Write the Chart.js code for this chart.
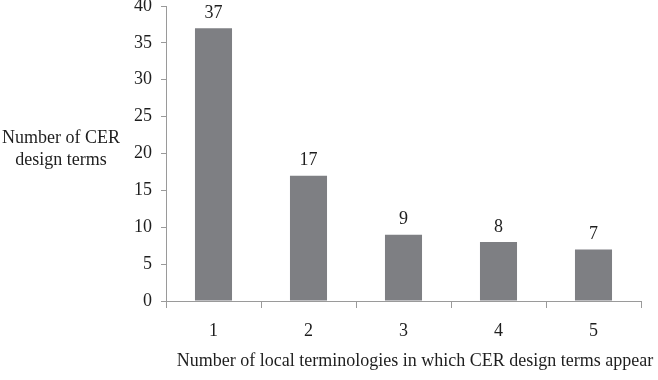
<!DOCTYPE html>
<html>
<head>
<meta charset="utf-8">
<script src="https://cdn.jsdelivr.net/npm/chart.js@4"></script>
<style>
  body { margin: 0; background: #fff; }
</style>
</head>
<body>
<canvas id="chart" width="658" height="380"></canvas>
<script>
const categories = ['1', '2', '3', '4', '5'];
const termCounts = [37, 17, 9, 8, 7];
const yTitleLines = ['Number of CER', 'design terms'];
const xTitle = 'Number of local terminologies in which CER design terms appear';

const fontFamily = '"Liberation Serif", "Times New Roman", serif';
const textColor = '#1e1e1e';
const axisColor = '#9a9a9a';

// value labels above bars + axis titles (placed like the original, not centred on the axis)
const labelsPlugin = {
    id: 'labels',
    afterDatasetsDraw(chart) {
        const ctx = chart.ctx;
        ctx.save();
        ctx.fillStyle = textColor;
        ctx.font = '18px ' + fontFamily;
        ctx.textAlign = 'center';
        ctx.textBaseline = 'bottom';
        chart.getDatasetMeta(0).data.forEach((bar, i) => {
            ctx.fillText(termCounts[i], bar.x, bar.y - 6);
        });

        ctx.textBaseline = 'middle';
        yTitleLines.forEach((line, i) => {
            ctx.fillText(line, 61, 138 + i * 22);
        });
        ctx.fillText(xTitle, 415, 361);
        ctx.restore();
    }
};

new Chart(document.getElementById('chart'), {
    type: 'bar',
    data: {
        labels: categories,
        datasets: [{
            data: termCounts,
            backgroundColor: '#7e7f83',
            barPercentage: 0.39,
            categoryPercentage: 1
        }]
    },
    options: {
        responsive: false,
        animation: false,
        layout: { padding: { top: 6, right: 17, left: 0, bottom: 0 } },
        plugins: {
            legend: { display: false },
            tooltip: { enabled: false }
        },
        scales: {
            x: {
                grid: {
                    offset: true,
                    drawOnChartArea: false,
                    tickLength: 7,
                    color: axisColor
                },
                border: { color: axisColor },
                ticks: {
                    color: textColor,
                    font: { family: fontFamily, size: 18 },
                    padding: 12
                },
                afterFit(scale) {
                    scale.height = 79;
                    scale.paddingLeft = 0;
                    scale.paddingRight = 0;
                }
            },
            y: {
                min: 0,
                max: 40,
                ticks: {
                    stepSize: 5,
                    color: textColor,
                    font: { family: fontFamily, size: 18 },
                    padding: 9
                },
                grid: {
                    drawOnChartArea: false,
                    tickLength: 5,
                    color: axisColor
                },
                border: { color: axisColor },
                afterFit(scale) {
                    scale.width = 166;
                    scale.paddingTop = 0;
                    scale.paddingBottom = 0;
                }
            }
        }
    },
    plugins: [labelsPlugin]
});
</script>
</body>
</html>
